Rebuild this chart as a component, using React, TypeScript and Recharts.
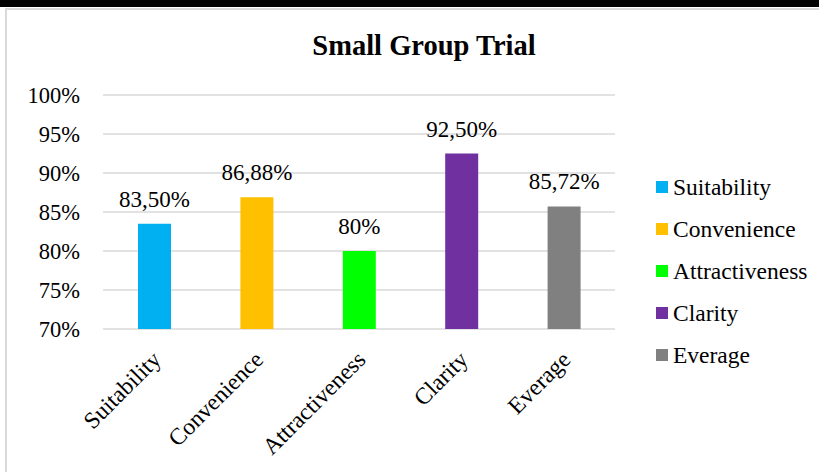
import React from "react";
import { BarChart, Bar, XAxis, YAxis, CartesianGrid, Cell, LabelList, Legend } from "recharts";

const categories = ["Suitability", "Convenience", "Attractiveness", "Clarity", "Everage"];
const percentages = [83.5, 86.88, 80, 92.5, 85.72];
const colors = ["#00b0f0", "#ffc000", "#00ff00", "#7030a0", "#808080"];
const yTicks = [70, 75, 80, 85, 90, 95, 100];

const FONT = '"Liberation Serif", "Times New Roman", serif';

const data = categories.map((name, i) => ({ name, value: percentages[i] }));

const formatValue = (v: number) =>
  Number.isInteger(v) ? `${v}%` : `${v.toFixed(2).replace(".", ",")}%`;

const SlantedTick = (props: any) => {
  const { x, y, payload } = props;
  return (
    <g transform={`translate(${x + 8},${y + 32}) rotate(-45)`}>
      <text x={0} y={0} textAnchor="end" style={{ fontSize: 23.5, fontFamily: FONT }} fill="#000">
        {payload.value}
      </text>
    </g>
  );
};

const YTick = (props: any) => {
  const { x, y, payload } = props;
  return (
    <text x={x} y={y} dy={8} textAnchor="end" style={{ fontSize: 22.5, fontFamily: FONT }} fill="#000">
      {`${payload.value}%`}
    </text>
  );
};

const ValueLabel = (props: any) => {
  const { x, y, width, value } = props;
  return (
    <text
      x={x + width / 2}
      y={y - 17}
      textAnchor="middle"
      style={{ fontSize: 23, fontFamily: FONT }}
      fill="#000"
    >
      {formatValue(Number(value))}
    </text>
  );
};

const LegendBox = () => (
  <div style={{ fontFamily: FONT, fontSize: 23.5, color: "#000" }}>
    {categories.map((c, i) => (
      <div key={c} style={{ display: "flex", alignItems: "center", height: 42, lineHeight: "42px", whiteSpace: "nowrap" }}>
        <span style={{ display: "inline-block", width: 12, height: 12, background: colors[i], marginRight: 5 }} />
        <span>{c}</span>
      </div>
    ))}
  </div>
);

export default function App() {
  return (
    <div
      style={{
        position: "absolute",
        left: 0,
        top: 0,
        width: 819,
        height: 472,
        background: "#fff",
        overflow: "hidden",
        fontFamily: FONT,
      }}
    >
      <div style={{ position: "absolute", left: 0, top: 0, width: 819, height: 7, background: "#000" }} />
      <div
        style={{
          position: "absolute",
          left: 5,
          top: 8,
          width: 830,
          height: 480,
          borderLeft: "2px solid #d9d9d9",
          borderTop: "2px solid #d9d9d9",
        }}
      />
      <div
        style={{
          position: "absolute",
          left: 224,
          width: 400,
          top: 30,
          textAlign: "center",
          fontFamily: FONT,
          fontWeight: "bold",
          fontSize: 28.5,
          lineHeight: "32px",
          color: "#000",
        }}
      >
        Small Group Trial
      </div>
      <div style={{ position: "absolute", left: 0, top: 0 }}>
        <BarChart width={819} height={472} data={data} margin={{ top: 95, right: 204, bottom: 113, left: 0 }}>
          <CartesianGrid vertical={false} stroke="#d9d9d9" strokeWidth={1.5} />
          <XAxis
            dataKey="name"
            axisLine={false}
            tickLine={false}
            tickSize={0}
            tickMargin={0}
            height={30}
            interval={0}
            tick={<SlantedTick />}
          />
          <YAxis
            width={103}
            domain={[70, 100]}
            ticks={yTicks}
            allowDataOverflow
            axisLine={false}
            tickLine={false}
            tickSize={0}
            tickMargin={23}
            tick={<YTick />}
          />
          <Legend
            layout="vertical"
            align="center"
            verticalAlign="middle"
            content={<LegendBox />}
            wrapperStyle={{ left: 656, top: 166, width: 170 }}
          />
          <Bar dataKey="value" barSize={33} isAnimationActive={false}>
            {data.map((d, i) => (
              <Cell key={d.name} fill={colors[i]} />
            ))}
            <LabelList dataKey="value" content={<ValueLabel />} />
          </Bar>
        </BarChart>
      </div>
    </div>
  );
}
